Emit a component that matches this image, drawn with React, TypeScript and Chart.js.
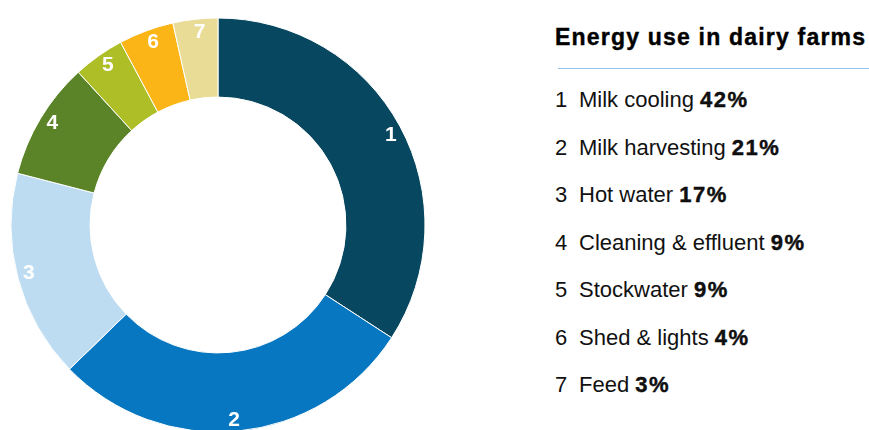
import React, { useEffect, useRef } from "react";
import { Chart, registerables } from "chart.js";

Chart.register(...registerables);

const categories = [
  "Milk cooling",
  "Milk harvesting",
  "Hot water",
  "Cleaning & effluent",
  "Stockwater",
  "Shed & lights",
  "Feed",
];
const sliceValues = [34.2, 28.6, 16.3, 9.2, 4.0, 4.3, 3.5];
const legendPercents = ["42%", "21%", "17%", "9%", "9%", "4%", "3%"];
const sliceColors = [
  "#07475f",
  "#0877c1",
  "#bddcf2",
  "#5a8427",
  "#aebe27",
  "#fbb516",
  "#e9dc96",
];
const title = "Energy use in dairy farms";

const numberLabels = {
  id: "numberLabels",
  afterDatasetsDraw(chart: any) {
    const ctx = chart.ctx;
    const meta = chart.getDatasetMeta(0);
    ctx.save();
    ctx.fillStyle = "#ffffff";
    ctx.font = "bold 21px 'Liberation Sans', Arial, sans-serif";
    ctx.textAlign = "center";
    ctx.textBaseline = "middle";
    meta.data.forEach((arc: any, i: number) => {
      const p = arc.getProps(["x", "y", "startAngle", "endAngle", "outerRadius"], true);
      const mid = (p.startAngle + p.endAngle) / 2 + 0.015;
      const r = p.outerRadius - 12;
      ctx.fillText(String(i + 1), p.x + r * Math.cos(mid), p.y + r * Math.sin(mid) + 1);
    });
    ctx.restore();
  },
};

export default function App() {
  const canvasRef = useRef<HTMLCanvasElement | null>(null);

  useEffect(() => {
    if (!canvasRef.current) return;
    const chart = new Chart(canvasRef.current, {
      type: "doughnut",
      data: {
        labels: categories,
        datasets: [
          {
            data: sliceValues,
            backgroundColor: sliceColors,
            borderColor: "#ffffff",
            borderWidth: 1,
            hoverOffset: 0,
          },
        ],
      },
      options: {
        responsive: false,
        animation: false,
        radius: 207,
        cutout: "61.8%",
        layout: { padding: 0 },
        plugins: {
          legend: { display: false },
          tooltip: { enabled: false },
        },
      } as any,
      plugins: [numberLabels],
    });
    return () => chart.destroy();
  }, []);

  const font = "'Liberation Sans', Arial, Helvetica, sans-serif";

  return (
    <div
      style={{
        position: "fixed",
        left: 0,
        top: 0,
        width: 869,
        height: 430,
        overflow: "hidden",
        background: "#ffffff",
        fontFamily: font,
      }}
    >
      <canvas
        ref={canvasRef}
        width={436}
        height={450}
        style={{ position: "absolute", left: 0, top: 0, width: 436, height: 450 }}
      />
      <div
        style={{
          position: "absolute",
          left: 555,
          top: 22,
          fontSize: 23,
          fontWeight: 900,
          color: "#000",
          whiteSpace: "nowrap",
          lineHeight: "30px",
          letterSpacing: "1.2px",
          WebkitTextStroke: "0.4px #000",
        }}
      >
        {title}
      </div>
      <div
        style={{
          position: "absolute",
          left: 558,
          top: 68,
          width: 311,
          height: 1,
          background: "#8ec4ea",
        }}
      />
      {categories.map((c, i) => (
        <div
          key={c}
          style={{
            position: "absolute",
            left: 555,
            top: 86 + i * 47.5,
            fontSize: 22,
            lineHeight: "28px",
            color: "#111",
            whiteSpace: "nowrap",
          }}
        >
          <span style={{ display: "inline-block", width: 24 }}>{i + 1}</span>
          {c}{" "}
          <b style={{ fontWeight: "bold", letterSpacing: "1.5px", WebkitTextStroke: "0.4px #000" }}>
            {legendPercents[i]}
          </b>
        </div>
      ))}
    </div>
  );
}
